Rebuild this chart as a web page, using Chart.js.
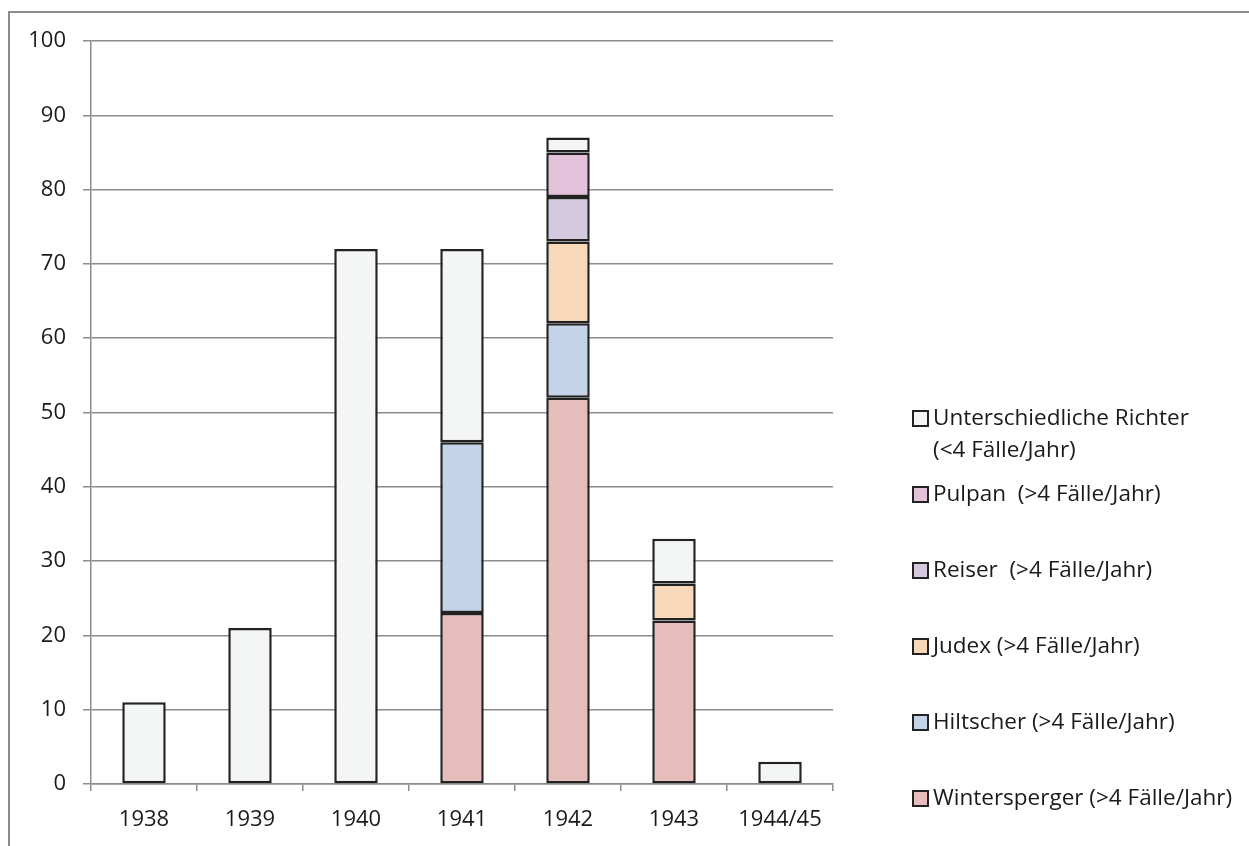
<!DOCTYPE html>
<html>
<head>
<meta charset="utf-8">
<script src="https://cdn.jsdelivr.net/npm/chart.js@4.4.1/dist/chart.umd.min.js"></script>
<style>
	html, body { margin: 0; padding: 0; background: #fff; }
	#wrap { position: relative; width: 1249px; height: 846px; overflow: hidden; }
	#frame { position: absolute; left: 8px; top: 11px; width: 1300px; height: 900px; border-left: 2px solid #8c8c8c; border-top: 2px solid #8c8c8c; }
	canvas { position: absolute; left: 0; top: 0; }
	#legend { position: absolute; left: 912px; top: 401px; font-family: "Open Sans", sans-serif; font-size: 22.5px; color: #1a1a1a; }
	#legend .item { position: relative; height: 76px; padding-left: 21px; line-height: 32px; white-space: nowrap; }
	#legend .box { position: absolute; left: 0; top: 9px; width: 13px; height: 13px; border: 2px solid #222; }
</style>
</head>
<body>
<div id="wrap">
	<div id="frame"></div>
	<canvas id="c" width="1249" height="846"></canvas>
	<div id="legend"></div>
</div>
<script>
var years = ['1938', '1939', '1940', '1941', '1942', '1943', '1944/45'];

var wintersperger = [null, null, null, 23, 52, 22, null];
var hiltscher     = [null, null, null, 23, 10, null, null];
var judex         = [null, null, null, null, 11, 5, null];
var reiser        = [null, null, null, null, 6, null, null];
var pulpan        = [null, null, null, null, 6, null, null];
var diverse       = [11, 21, 72, 26, 2, 6, 3];

var seriesNames = [
	'Wintersperger (>4 Fälle/Jahr)',
	'Hiltscher (>4 Fälle/Jahr)',
	'Judex (>4 Fälle/Jahr)',
	'Reiser  (>4 Fälle/Jahr)',
	'Pulpan  (>4 Fälle/Jahr)',
	['Unterschiedliche Richter', '(<4 Fälle/Jahr)']
];
var seriesData = [wintersperger, hiltscher, judex, reiser, pulpan, diverse];
var seriesColors = ['#e6bdbb', '#c4d3e8', '#f7d8b9', '#d5c9e0', '#e4c1da', '#f4f6f5'];

var datasets = [];
for (var i = 0; i < seriesData.length; i++) {
	datasets.push({
		label: [].concat(seriesNames[i]).join(' '),
		data: seriesData[i],
		backgroundColor: seriesColors[i],
		borderColor: '#222',
		borderWidth: 2.5,
		borderSkipped: false,
		barPercentage: 0.41,
		categoryPercentage: 1
	});
}

var font = { family: '"Open Sans", sans-serif', size: 22 };

new Chart(document.getElementById('c'), {
	type: 'bar',
	data: { labels: years, datasets: datasets },
	options: {
		responsive: false,
		animation: false,
		layout: { padding: { top: 41, right: 416, left: 0, bottom: 0 } },
		plugins: { legend: { display: false }, tooltip: { enabled: false } },
		scales: {
			x: {
				stacked: true,
				afterFit: function(s) { s.height = 62; },
				grid: { offset: true, drawOnChartArea: false, drawTicks: true, tickLength: 7, color: '#8c8c8c', lineWidth: 1.5 },
				border: { color: '#8c8c8c', width: 1.5 },
				ticks: { color: '#1a1a1a', font: font, padding: 16 }
			},
			y: {
				stacked: true,
				min: 0,
				max: 100,
				afterFit: function(s) { s.width = 91; },
				grid: { color: '#8c8c8c', lineWidth: 1.5, tickLength: 8 },
				border: { color: '#8c8c8c', width: 1.5 },
				ticks: { stepSize: 10, color: '#1a1a1a', font: font, padding: 17 }
			}
		}
	}
});

var legend = document.getElementById('legend');
for (var j = seriesData.length - 1; j >= 0; j--) {
	var item = document.createElement('div');
	item.className = 'item';
	var box = document.createElement('span');
	box.className = 'box';
	box.style.background = seriesColors[j];
	item.appendChild(box);
	item.innerHTML += [].concat(seriesNames[j]).join('<br>').replace(/  /g, ' &nbsp;');
	legend.appendChild(item);
}
</script>
</body>
</html>
